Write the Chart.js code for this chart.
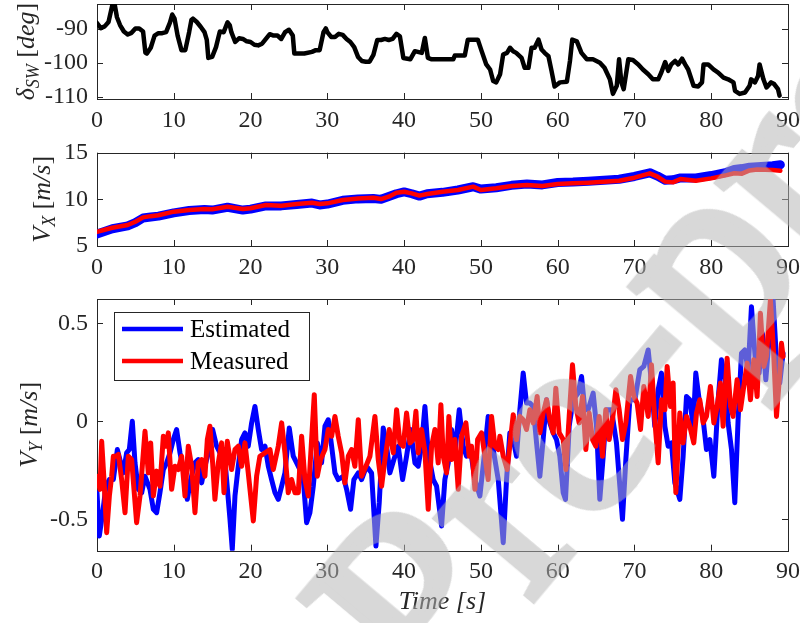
<!DOCTYPE html>
<html>
<head>
<meta charset="utf-8">
<script src="https://cdn.jsdelivr.net/npm/chart.js@4.4.1/dist/chart.umd.min.js"></script>
<style>
  html, body { margin: 0; padding: 0; background: #fff; overflow: hidden; }
  body { position: relative; width: 800px; height: 623px; }
  .pane { position: absolute; left: 0; width: 800px; }
  #mark {
    position: absolute; left: -315px; top: 1225px;
    transform-origin: 0 0; transform: rotate(-50deg);
    font: 272px "Liberation Serif", serif; line-height: 1.15;
    white-space: nowrap; color: rgb(180, 180, 180);
    -webkit-text-stroke: 9px rgb(180, 180, 180);
    opacity: 0.52;
    pointer-events: none;
  }
</style>
</head>
<body>
<div class="pane" style="top:0;height:140px"><canvas id="swChart"></canvas></div>
<div class="pane" style="top:140px;height:145px"><canvas id="vxChart"></canvas></div>
<div class="pane" style="top:285px;height:338px"><canvas id="vyChart"></canvas></div>
<div id="mark">Journal Pre-proof</div>
<script>
// steering wheel angle
const swTime = [0,0.5,1,1.5,2,2.3,2.6,3,3.5,4,4.5,5,5.5,6,6.3,6.5,7,7.5,8,8.5,9,9.5,9.8,10.1,10.5,11,11.5,12,12.3,12.5,
  13,13.5,14,14.3,14.5,15,15.5,16,16.5,17,17.3,17.5,18,18.5,19,19.5,20,20.5,21,21.5,22,22.5,23,23.5,24,24.5,25,25.5,25.7,26,
  27,28,28.5,29,29.5,29.8,30,30.5,31,31.5,32,32.5,33,33.5,34,34.5,35,35.5,36,36.5,37,37.5,38,38.5,39,39.45,
  39.9,40.8,41.4,42.3,42.7,43.1,43.6,46.4,46.6,47.9,48.3,49.6,50.1,50.7,51.2,51.6,52.0,52.5,52.9,53.4,
  53.8,54.2,54.6,55.3,55.7,56.2,56.6,57.0,57.5,57.9,58.3,58.8,59.2,59.6,60.3,61.2,61.6,61.9,62.5,63.1,
  63.8,64.6,65.5,66.1,66.8,67.2,67.7,68.0,68.3,68.6,69.2,69.8,70.5,71.1,71.8,72.4,73.1,73.5,74.0,74.4,
  74.8,75.3,75.7,76.2,76.6,77.0,77.7,78.3,78.8,79.0,79.6,80.3,80.9,81.6,82.2,82.9,83.1,83.7,84.4,85.0,
  85.2,85.7,86.1,86.3,86.8,87.2,87.8,88.2,88.7,88.9];
const swAngle = [-88.3,-89.8,-89.3,-88.0,-83.0,-82.8,-86.6,-88.9,-90.8,-91.7,-91.2,-89.9,-89.9,-90.8,-97.0,-97.3,-95.6,-92.0,-91.3,-91.3,
  -91.0,-88.2,-85.8,-87.0,-92.0,-96.3,-96.3,-91.0,-87.4,-87.0,-88.0,-89.4,-91.0,-93.3,-98.6,-98.3,-95.4,-90.8,-91.0,-88.1,
  -89.0,-91.0,-93.9,-92.8,-93.0,-93.7,-93.9,-94.7,-94.9,-94.4,-93.0,-91.6,-92.0,-92.0,-93.0,-91.0,-90.3,-92.0,-97.3,-97.3,
  -97.3,-96.8,-96.3,-96.3,-91.0,-89.9,-91.0,-92.4,-92.4,-91.5,-91.8,-93.0,-93.9,-95.4,-98.3,-99.5,-99.7,-99.7,-97.7,-93.3,
  -93.3,-93.0,-93.3,-93.0,-91.5,-92.2,
  -98.6,-99.0,-96.6,-97.1,-92.7,-98.6,-99.0,-99.0,-97.9,-97.9,-93.2,-93.2,-96.6,-100.5,-102.0,-105.4,-105.8,-103.4,-97.6,-97.1,
  -95.6,-96.6,-97.1,-98.6,-101.5,-101.5,-95.6,-95.6,-93.2,-96.1,-97.1,-98.1,-102.4,-107.0,-105.8,-105.6,-99.5,-93.2,-93.7,-97.1,
  -99.0,-99.0,-100.0,-101.5,-104.9,-109.2,-106.8,-99.0,-105.8,-107.8,-99.0,-99.2,-100.5,-102.0,-103.4,-104.9,-104.9,-102.9,-99.8,-102.4,
  -100.5,-99.5,-100.5,-98.8,-100.5,-102.0,-106.8,-107.0,-105.8,-100.5,-100.5,-102.0,-102.9,-104.4,-104.9,-105.8,-108.3,-109.2,-108.8,-106.8,
  -104.9,-105.8,-103.9,-100.5,-104.9,-107.3,-105.8,-106.3,-107.8,-109.7];

// longitudinal speed
const vxTime = [0,2,4,5,6,7,8,10,12,14,15,17,19,20,22,24,26,28,29,30,32,34,36,37,38,39,40,41,42,43,
  45,47,49,50,52,54,56,58,60,62,64,66,68,70,72,73,74,75,76,78,80,82,83,84,85,86,88,89];
const vxEst = [6.3,6.85,7.15,7.5,8.0,8.1,8.2,8.55,8.8,8.9,8.85,9.15,8.85,8.95,9.3,9.3,9.45,9.6,9.4,9.5,
  9.9,10.05,10.1,10.0,10.3,10.6,10.8,10.6,10.35,10.6,10.75,11.0,11.35,11.1,11.25,11.5,11.65,11.55,11.8,11.85,
  11.95,12.05,12.15,12.45,12.85,12.5,12.05,12.1,12.3,12.3,12.55,12.9,13.2,13.3,13.45,13.5,13.6,13.7];
const vxMeas = [6.53,6.96,7.25,7.6,8.07,8.2,8.3,8.68,8.86,8.96,8.93,9.21,8.96,9.05,9.39,9.32,9.5,9.64,9.5,9.57,
  9.93,10.1,10.18,10.03,10.29,10.7,10.82,10.64,10.4,10.57,10.82,11.0,11.36,11.0,11.18,11.43,11.54,11.43,11.64,11.72,
  11.79,11.89,12.0,12.32,12.79,12.43,11.9,11.82,12.18,12.0,12.25,12.6,12.8,12.75,13.1,13.2,13.14,13.07];

// lateral speed
const vyEstTime = [0,0.30,0.74,1.17,1.61,2.13,2.65,3.43,3.86,4.21,4.60,4.95,5.38,5.82,6.25,6.90,7.34,7.77,8.20,8.64,
  9.07,9.51,9.94,10.37,10.81,11.33,11.76,12.20,12.76,13.19,13.63,14.06,14.50,15.06,15.58,16.02,16.54,16.88,17.32,17.62,
  17.97,18.40,18.84,19.27,19.70,20.14,20.57,21.01,21.44,21.88,22.31,22.74,23.18,23.61,24.05,24.48,25.04,25.56,26.00,26.43,
  26.87,27.30,27.73,28.17,28.69,29.25,29.69,30.12,30.56,30.99,31.42,32.07,32.51,33.03,33.46,34.03,34.46,35.11,35.76,36.33,
  36.76,37.28,37.72,38.15,38.67,39.24,39.80,40.32,40.84,41.41,41.84,42.27,42.71,43.14,43.79,44.23,44.88,45.31,45.75,46.18,
  46.61,47.18,47.70,48.13,48.57,49.22,49.87,50.43,50.95,51.61,52.26,
  52.91,53.34,53.77,54.21,54.64,55.08,55.51,55.94,56.38,56.81,57.25,57.68,58.11,58.55,58.98,59.42,59.85,60.28,60.72,61.02,
  61.50,62.02,62.67,63.11,63.54,63.97,64.62,65.06,65.49,65.93,66.36,67.01,67.66,68.10,68.44,68.88,69.40,70.05,70.70,71.22,
  71.79,72.22,72.65,73.09,73.52,73.96,74.39,74.82,75.26,75.91,76.34,76.78,77.21,77.65,77.99,78.43,78.95,79.38,79.82,80.34,
  80.90,81.33,81.77,82.20,82.64,83.07,83.50,83.94,84.37,84.81,85.24,85.81,86.24,86.67,87.11,87.63,88.06,88.50,88.93,89.36];
const vyEst = [-0.364,-0.585,-0.466,-0.331,-0.297,-0.297,-0.144,-0.263,-0.161,-0.144,0.0,-0.212,-0.347,-0.364,-0.280,-0.347,-0.449,-0.466,-0.364,-0.246,
  -0.212,-0.161,-0.093,-0.042,-0.161,-0.263,-0.398,-0.297,-0.212,-0.195,-0.314,-0.229,-0.161,-0.042,-0.127,-0.161,-0.144,-0.297,-0.500,-0.653,
  -0.381,-0.229,-0.093,-0.059,-0.127,-0.008,0.076,-0.042,-0.144,-0.127,-0.229,-0.297,-0.364,-0.398,-0.331,-0.263,-0.034,-0.178,-0.212,-0.246,
  -0.297,-0.517,-0.466,-0.331,-0.110,-0.212,-0.025,0.008,-0.127,-0.263,-0.297,-0.280,-0.347,-0.449,-0.297,-0.263,-0.297,-0.229,-0.263,-0.636,
  -0.415,-0.034,-0.127,-0.263,-0.195,-0.127,-0.297,-0.178,-0.042,-0.212,-0.229,-0.127,0.076,-0.161,-0.297,-0.331,-0.534,-0.297,-0.212,-0.042,
  -0.161,0.059,-0.127,-0.178,-0.127,-0.297,-0.381,-0.178,0.025,-0.144,-0.297,
  -0.619,-0.297,-0.059,-0.093,-0.178,0.059,0.246,0.093,0.093,0.076,-0.110,-0.280,-0.093,0.110,-0.008,-0.059,-0.093,-0.178,-0.364,-0.398,
  -0.025,0.110,0.144,0.229,0.059,0.059,0.144,-0.025,-0.398,-0.178,0.059,0.059,-0.110,-0.331,-0.500,-0.195,0.110,0.110,0.263,0.280,
  0.364,0.195,-0.025,0.161,0.246,-0.025,-0.127,-0.110,-0.314,-0.398,-0.178,0.127,0.110,-0.025,0.246,0.110,0.008,-0.144,-0.093,-0.280,
  0.110,0.314,0.229,-0.008,-0.144,-0.415,0.008,0.347,0.364,0.263,0.585,0.280,0.246,0.449,0.212,0.466,0.619,0.314,0.195,0.347];
const vyMeasTime = [0,0.39,0.61,0.91,1.26,1.61,1.91,2.13,2.47,2.78,3.21,3.65,4.08,4.51,5.16,5.60,6.25,6.68,6.99,7.34,
  7.77,8.20,8.64,8.98,9.29,9.72,10.16,10.59,11.02,11.46,11.89,12.33,12.76,13.19,13.63,14.06,14.37,14.71,15.06,15.36,
  15.80,16.23,16.54,16.97,17.53,17.97,18.40,18.84,19.27,19.70,20.36,20.79,21.22,21.88,22.53,22.96,23.61,24.05,24.48,24.91,
  25.35,25.78,26.22,26.65,27.08,27.52,27.95,28.30,28.69,29.12,29.69,30.12,30.56,30.99,31.42,31.86,32.29,32.73,33.16,33.59,
  34.03,34.46,35.03,35.55,36.20,36.63,37.07,37.50,38.06,38.59,39.02,39.45,39.89,40.32,40.76,41.19,41.54,41.84,42.27,42.71,
  43.14,43.58,44.01,44.44,44.79,45.10,45.53,45.83,46.18,46.61,47.05,47.48,48.05,48.48,48.78,49.22,49.57,50.09,50.52,50.95,
  51.39,51.82,52.26,
  52.47,52.91,53.43,53.86,54.21,54.64,55.08,55.51,55.94,56.38,56.81,57.33,57.68,58.11,58.55,58.98,59.42,59.76,60.20,60.72,
  61.07,61.50,61.93,62.37,62.80,63.24,63.67,64.10,64.54,64.97,65.41,65.84,66.27,66.71,67.14,67.58,68.01,68.44,68.88,69.49,
  69.92,70.35,70.79,71.22,71.79,72.22,72.65,73.09,73.52,73.96,74.26,74.69,75.04,75.39,75.91,76.34,76.78,77.21,77.73,78.08,
  78.51,78.95,79.38,79.90,80.34,80.77,81.20,81.55,82.07,82.51,82.85,83.37,83.81,84.24,84.68,85.11,85.54,85.98,86.41,86.85,
  87.19,87.71,88.15,88.50,88.93,89.15,89.36];
const vyMeas = [-0.280,-0.347,-0.102,-0.297,-0.568,-0.381,-0.280,-0.178,-0.178,-0.169,-0.297,-0.466,-0.178,-0.195,-0.517,-0.381,-0.051,-0.263,-0.110,-0.381,
  -0.254,-0.331,-0.076,-0.127,-0.059,-0.347,-0.229,-0.246,-0.178,-0.381,-0.127,-0.229,-0.466,-0.212,-0.195,-0.280,-0.093,-0.025,-0.212,-0.398,
  -0.212,-0.110,-0.364,-0.102,-0.246,-0.144,-0.127,-0.229,-0.110,-0.263,-0.508,-0.280,-0.178,-0.161,-0.144,-0.246,-0.127,-0.008,-0.161,-0.364,
  -0.297,-0.364,-0.364,-0.076,-0.297,-0.381,-0.093,0.136,-0.280,-0.195,-0.144,-0.042,-0.076,0.025,-0.076,-0.161,-0.314,-0.178,-0.144,-0.229,
  0.008,-0.280,-0.229,-0.178,0.025,-0.195,-0.331,-0.195,-0.042,-0.161,0.059,-0.110,-0.127,0.042,-0.110,-0.093,0.051,-0.161,-0.042,-0.153,
  -0.449,-0.127,-0.042,-0.212,0.085,-0.178,-0.263,0.025,-0.195,-0.093,-0.347,-0.076,-0.008,-0.178,-0.127,-0.347,-0.093,-0.059,-0.178,-0.297,
  0.025,-0.127,-0.144,
  -0.076,-0.178,-0.246,-0.093,0.034,-0.093,0.025,0.008,-0.042,0.059,-0.008,0.127,-0.059,0.042,0.110,0.008,-0.059,0.169,-0.059,-0.093,
  -0.246,0.025,0.288,0.076,-0.008,0.127,-0.144,0.042,-0.093,-0.127,0.025,-0.178,0.059,-0.093,0.008,0.161,0.059,-0.093,-0.008,0.229,
  0.127,0.093,-0.042,0.178,0.025,0.288,0.008,-0.212,0.110,0.059,0.280,0.076,0.195,-0.364,0.042,-0.110,0.025,-0.025,-0.110,0.042,
  0.110,-0.008,0.025,0.178,-0.008,0.076,0.195,-0.025,0.322,0.076,0.025,0.212,0.059,0.178,0.297,0.110,0.314,0.127,0.551,0.280,
  0.331,0.619,0.331,0.025,0.246,0.398,0.331];

// tick labels
const timeTicks = [0, 10, 20, 30, 40, 50, 60, 70, 80, 90];
const swTicks = [-110, -100, -90];
const vxTicks = [5, 10, 15];
const vyTicks = [-0.5, 0, 0.5];

const SERIF = '"Liberation Serif", "Times New Roman", serif';
const AXIS = '#262626';
const pts = (xs, ys) => xs.map((x, i) => ({ x: x, y: ys[i] }));

// box + inward ticks on all four sides (MATLAB style)
const boxTicks = {
  id: 'boxTicks',
  beforeDatasetsDraw(chart) {
    const { ctx, chartArea: a, scales } = chart;
    const len = 6;
    ctx.save();
    ctx.strokeStyle = AXIS;
    ctx.lineWidth = 1;
    ctx.strokeRect(Math.round(a.left) + 0.5, Math.round(a.top) + 0.5,
      Math.round(a.right - a.left), Math.round(a.bottom - a.top));
    ctx.beginPath();
    scales.x.ticks.forEach(t => {
      const px = Math.round(scales.x.getPixelForValue(t.value)) + 0.5;
      ctx.moveTo(px, a.bottom); ctx.lineTo(px, a.bottom - len);
      ctx.moveTo(px, a.top); ctx.lineTo(px, a.top + len);
    });
    scales.y.ticks.forEach(t => {
      const py = Math.round(scales.y.getPixelForValue(t.value)) + 0.5;
      ctx.moveTo(a.left, py); ctx.lineTo(a.left + len, py);
      ctx.moveTo(a.right, py); ctx.lineTo(a.right - len, py);
    });
    ctx.stroke();
    ctx.restore();
  }
};

// rotated y title with subscripts
const yTitle = {
  id: 'yTitle',
  afterDraw(chart, args, opts) {
    if (!opts.parts) return;
    const { ctx, chartArea: a } = chart;
    ctx.save();
    ctx.fillStyle = AXIS;
    ctx.textBaseline = 'alphabetic';
    const fontOf = p => (p.italic ? 'italic ' : '') + (p.sub ? 18 : 26) + 'px ' + SERIF;
    let total = 0;
    const widths = opts.parts.map(p => { ctx.font = fontOf(p); const w = ctx.measureText(p.text).width; total += w; return w; });
    ctx.translate(opts.x, (a.top + a.bottom) / 2);
    ctx.rotate(-Math.PI / 2);
    let cx = -total / 2;
    opts.parts.forEach((p, i) => {
      ctx.font = fontOf(p);
      ctx.fillText(p.text, cx, p.sub ? 5 : 0);
      cx += widths[i];
    });
    ctx.restore();
  }
};

// boxed legend inside the axes
const boxLegend = {
  id: 'boxLegend',
  afterDatasetsDraw(chart, args, opts) {
    if (!opts.show) return;
    const { ctx, chartArea: a } = chart;
    const left = a.left + 17, top = a.top + 13, w = 195, h = 68;
    ctx.save();
    ctx.fillStyle = '#fff';
    ctx.fillRect(left, top, w, h);
    ctx.strokeStyle = AXIS;
    ctx.lineWidth = 1;
    ctx.strokeRect(left + 0.5, top + 0.5, w, h);
    ctx.font = '25px ' + SERIF;
    ctx.textBaseline = 'alphabetic';
    chart.data.datasets.forEach((ds, i) => {
      const rowY = top + 17 + i * 32;
      ctx.strokeStyle = ds.borderColor;
      ctx.lineWidth = 4.5;
      ctx.beginPath();
      ctx.moveTo(left + 8, rowY); ctx.lineTo(left + 69, rowY);
      ctx.stroke();
      ctx.fillStyle = '#000';
      ctx.fillText(ds.label, left + 76, rowY + 8);
    });
    ctx.restore();
  }
};

// higher order is drawn first, so Measured (order 0) ends up on top
function lineSet(label, data, color, width, order) {
  return { label, data, order, borderColor: color, backgroundColor: color, borderWidth: width,
    pointRadius: 0, tension: 0, borderJoinStyle: 'round', borderCapStyle: 'round' };
}

function makeOptions(o) {
  return {
    responsive: true,
    maintainAspectRatio: false,
    animation: false,
    layout: { padding: { top: o.padTop, right: 12, left: 0, bottom: 0 } },
    plugins: {
      legend: { display: false },
      tooltip: { enabled: false },
      yTitle: { x: o.titleX, parts: o.titleParts },
      boxLegend: { show: !!o.legend }
    },
    scales: {
      x: {
        type: 'linear', min: 0, max: 90,
        grid: { display: false, drawTicks: false },
        border: { display: false },
        afterBuildTicks: s => { s.ticks = timeTicks.map(v => ({ value: v })); },
        afterFit: s => { s.height = o.xHeight; s.paddingLeft = 0; s.paddingRight = 0; },
        ticks: { color: AXIS, font: { family: SERIF, size: 24 }, padding: 7,
          maxRotation: 0, autoSkip: false, callback: v => String(v) },
        title: o.xTitle ? { display: true, text: 'Time [s]', color: AXIS,
          font: { family: SERIF, size: 26, style: 'italic' }, padding: { top: 0, bottom: 5 } } : { display: false }
      },
      y: {
        min: o.yMin, max: o.yMax,
        grid: { display: false, drawTicks: false },
        border: { display: false },
        afterBuildTicks: s => { s.ticks = o.yTicks.map(v => ({ value: v })); },
        afterFit: s => { s.width = 97; s.paddingTop = 0; s.paddingBottom = 0; },
        ticks: { color: AXIS, font: { family: SERIF, size: 24 }, padding: 9,
          autoSkip: false, callback: v => String(v) }
      }
    }
  };
}

Chart.register(boxTicks, yTitle, boxLegend);

new Chart(document.getElementById('swChart'), {
  type: 'line',
  data: { datasets: [lineSet('Steering', pts(swTime, swAngle), '#000000', 4.5, 0)] },
  options: makeOptions({ padTop: 4, xHeight: 41, yMin: -110.7, yMax: -82.7, yTicks: swTicks, titleX: 34,
    titleParts: [{ text: 'δ', italic: true }, { text: 'SW', italic: true, sub: true }, { text: ' [' },
      { text: 'deg', italic: true }, { text: ']' }] })
});

new Chart(document.getElementById('vxChart'), {
  type: 'line',
  data: { datasets: [
    lineSet('Estimated', pts(vxTime, vxEst), '#0000ff', 9, 1),
    lineSet('Measured', pts(vxTime, vxMeas), '#ff0000', 4.5, 0)
  ] },
  options: makeOptions({ padTop: 12.7, xHeight: 39, yMin: 5, yMax: 15, yTicks: vxTicks, titleX: 50,
    titleParts: [{ text: 'V', italic: true }, { text: 'X', italic: true, sub: true }, { text: ' [' },
      { text: 'm/s', italic: true }, { text: ']' }] })
});

new Chart(document.getElementById('vyChart'), {
  type: 'line',
  data: { datasets: [
    lineSet('Estimated', pts(vyEstTime, vyEst), '#0000ff', 5, 1),
    lineSet('Measured', pts(vyMeasTime, vyMeas), '#ff0000', 5, 0)
  ] },
  options: makeOptions({ padTop: 14, xHeight: 72.3, yMin: -0.66, yMax: 0.624, yTicks: vyTicks, titleX: 37,
    legend: true, xTitle: true,
    titleParts: [{ text: 'V', italic: true }, { text: 'Y', italic: true, sub: true }, { text: ' [' },
      { text: 'm/s', italic: true }, { text: ']' }] })
});
</script>
</body>
</html>
